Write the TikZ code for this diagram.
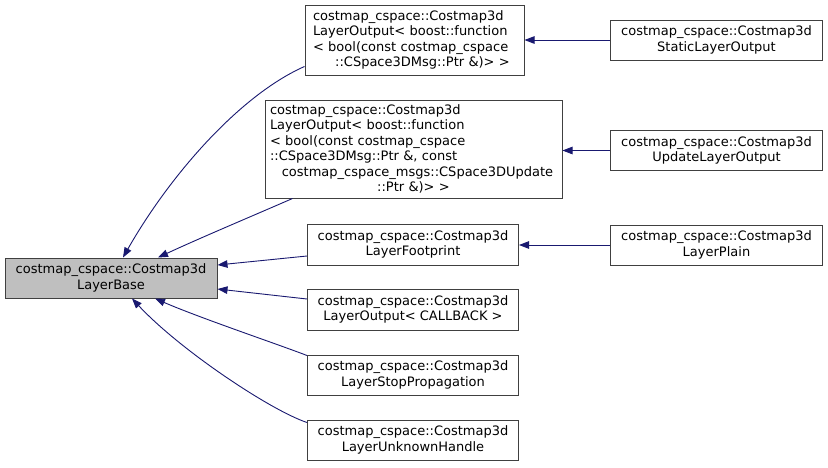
\documentclass[tikz,border=0pt]{standalone}
\usepackage{fontspec}
\setmainfont{DejaVu Sans}
\usetikzlibrary{arrows.meta}
\definecolor{edgecol}{RGB}{25,25,112}
\definecolor{boxcol}{RGB}{64,64,64}
\definecolor{basefill}{RGB}{191,191,191}
\begin{document}
\begin{tikzpicture}[x=1pt,y=-1pt,
  box/.style={draw=boxcol, line width=1pt, fill=white, inner sep=0pt,
    font=\fontsize{13}{15.5}\selectfont, align=center},
  std/.style={box, minimum width=211pt, minimum height=41pt},
  edge/.style={draw=edgecol, line width=0.9pt, -{Triangle[length=10pt,width=7.5pt]}}]
\useasboundingbox (0,0) rectangle (828,467);

\node[box, fill=basefill, minimum width=212pt, minimum height=40pt] (base) at (111,278)
  {costmap\_cspace::Costmap3d\\LayerBase};

\node[box, align=left, text width=203pt, inner xsep=8pt, minimum height=70pt] (a1) at (414.5,40)
  {costmap\_cspace::Costmap3d\\
   LayerOutput< boost::function\\
   < bool(const costmap\_cspace\\
   \makebox[\linewidth]{\hspace*{16pt}::CSpace3DMsg::Ptr \&)> >}};

\node[box, align=left, text width=287pt, inner xsep=5pt, minimum height=98pt] (a2) at (413.5,149)
  {costmap\_cspace::Costmap3d\\
   LayerOutput< boost::function\\
   < bool(const costmap\_cspace\\
   ::CSpace3DMsg::Ptr \&, const\\
   \makebox[\linewidth]{\hspace*{8pt}costmap\_cspace\_msgs::CSpace3DUpdate}\\
   \makebox[\linewidth]{::Ptr \&)> >}};

\node[std] (c) at (413,244.5) {costmap\_cspace::Costmap3d\\LayerFootprint};
\node[std] (d) at (413,309.5) {costmap\_cspace::Costmap3d\\LayerOutput< CALLBACK >};
\node[std, minimum height=40pt] (e) at (413,375) {costmap\_cspace::Costmap3d\\LayerStopPropagation};
\node[std, minimum height=40pt] (f) at (413,440) {costmap\_cspace::Costmap3d\\LayerUnknownHandle};

\node[std, minimum width=212pt, minimum height=40pt] (b1) at (716.5,40) {costmap\_cspace::Costmap3d\\StaticLayerOutput};
\node[std, minimum width=212pt, minimum height=40pt] (b2) at (716.5,150.5) {costmap\_cspace::Costmap3d\\UpdateLayerOutput};
\node[std, minimum width=212pt, minimum height=40pt] (b3) at (716.5,245) {costmap\_cspace::Costmap3d\\LayerPlain};

\draw[edge] ([yshift=9pt]a1.south west) .. controls (240,95) and (170,175) .. ([xshift=12pt]base.north);
\draw[edge] ([xshift=28pt]a2.south west) .. controls (250,217) and (200,238) .. ([xshift=47pt]base.north);
\draw[edge] ([yshift=-11.5pt]c.west) -- ([yshift=13pt]base.east);
\draw[edge] ([yshift=10.5pt]d.west) -- ([yshift=-11pt]base.east);
\draw[edge] ([yshift=-1pt]e.north west) .. controls (280,345) and (200,318) .. ([xshift=44pt]base.south);
\draw[edge] ([yshift=-3pt]f.north west) .. controls (270,410) and (180,350) .. ([xshift=21pt]base.south);

\draw[edge] (b1.west) -- (b1.west -| a1.east);
\draw[edge] (b2.west) -- (b2.west -| a2.east);
\draw[edge] (b3.west) -- (b3.west -| c.east);
\end{tikzpicture}
\end{document}
